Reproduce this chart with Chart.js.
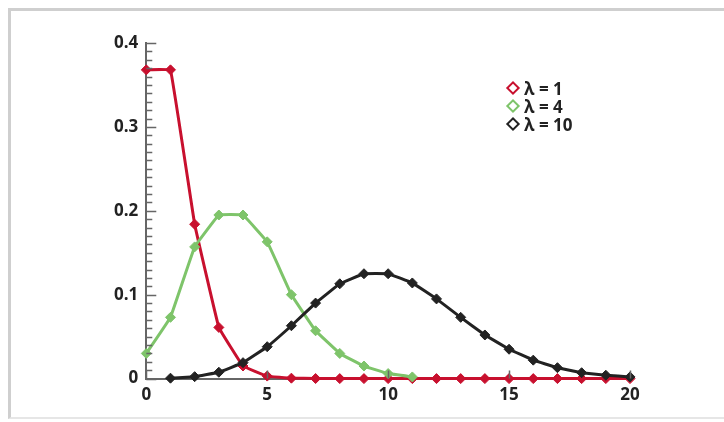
<!DOCTYPE html>
<html>
<head>
<meta charset="utf-8">
<script src="https://cdn.jsdelivr.net/npm/chart.js@4/dist/chart.umd.min.js"></script>
<style>
body { margin: 0; background: #fff; font-family: "Open Sans", sans-serif; }
#frame { position: absolute; left: 8px; top: 8px; width: 720px; height: 406px;
         border-top: 3px solid #cfcfcf; border-left: 3px solid #cfcfcf; border-bottom: 2px solid #e6e6e6; }
#wrap { position: absolute; left: 0; top: 0; width: 724px; height: 422px; }
#legend { position: absolute; left: 508px; top: 80px; font-weight: bold; font-size: 17px; color: #222; line-height: 18px; }
#legend span.m { display: inline-block; width: 6px; height: 6px; border: 2.5px solid; transform: rotate(45deg); margin-right: 6px; position: relative; top: -2px; }
</style>
</head>
<body>
<div id="frame"></div>
<div id="wrap"><canvas id="c"></canvas></div>
<div id="legend">
  <div><span class="m" style="border-color:#c8102e"></span>λ = 1</div>
  <div><span class="m" style="border-color:#7ec46a"></span>λ = 4</div>
  <div><span class="m" style="border-color:#222"></span>λ = 10</div>
</div>
<script>
const kValues = [0,1,2,3,4,5,6,7,8,9,10,11,12,13,14,15,16,17,18,19,20];
const lambda1 = [0.368,0.368,0.184,0.061,0.015,0.003,0.0005,0.0001,0,0,0,0,0,0,0,0,0,0,0,0,0];
const lambda4 = [0.03,0.073,0.157,0.195,0.195,0.163,0.100,0.057,0.030,0.015,0.006,0.002,null,null,null,null,null,null,null,null,null];
const lambda10 = [null,0.0005,0.0023,0.0076,0.019,0.038,0.063,0.090,0.113,0.125,0.125,0.114,0.095,0.073,0.052,0.035,0.022,0.013,0.007,0.004,0.002];
const yLabels = [0, 0.1, 0.2, 0.3, 0.4];

function ds(label, data, color) {
  return { label, data: data.map((v, i) => ({ x: kValues[i], y: v })), borderColor: color,
    backgroundColor: color, borderWidth: 3, pointStyle: 'rectRot', pointRadius: 5,
    pointBorderWidth: 1, tension: 0.05, spanGaps: false, clip: 6 };
}

const innerTicks = {
  id: 'innerTicks',
  afterDraw(chart) {
    const { ctx, chartArea: a, scales: { x, y } } = chart;
    ctx.save();
    ctx.strokeStyle = '#666';
    ctx.lineWidth = 1.5;
    ctx.beginPath();
    for (let i = 0; i <= 40; i++) {
      const py = Math.round(y.getPixelForValue(i / 100)) + 0.5;
      const len = i % 10 === 0 ? 10 : 6;
      ctx.moveTo(a.left, py); ctx.lineTo(a.left + len, py);
    }
    for (let i = 0; i <= 20; i += 5) {
      const px = Math.round(x.getPixelForValue(i)) + 0.5;
      ctx.moveTo(px, a.bottom); ctx.lineTo(px, a.bottom - 8);
    }
    ctx.stroke();
    ctx.restore();
  }
};

new Chart(document.getElementById('c'), {
  type: 'line',
  data: { datasets: [ds('λ = 10', lambda10, '#222222'), ds('λ = 4', lambda4, '#7ec46a'), ds('λ = 1', lambda1, '#c8102e')] },
  options: {
    responsive: true, maintainAspectRatio: false, animation: false,
    layout: { padding: { left: 106, right: 94, top: 43, bottom: 11 } },
    plugins: { legend: { display: false }, tooltip: { enabled: false } },
    scales: {
      x: { type: 'linear', min: 0, max: 20,
        grid: { display: false, drawTicks: false },
        border: { color: '#666', width: 2 },
        ticks: { stepSize: 5, padding: 6, color: '#222', font: { family: 'Open Sans', weight: 'bold', size: 17 } } },
      y: { min: 0, max: 0.4, afterBuildTicks: s => { s.ticks = yLabels.map(v => ({ value: v })); },
        grid: { display: false, drawTicks: false },
        border: { color: '#666', width: 2 },
        ticks: { padding: 8, color: '#222', font: { family: 'Open Sans', weight: 'bold', size: 17 },
          callback: v => v === 0 ? '0' : v.toFixed(1) } }
    }
  },
  plugins: [innerTicks]
});
</script>
</body>
</html>
